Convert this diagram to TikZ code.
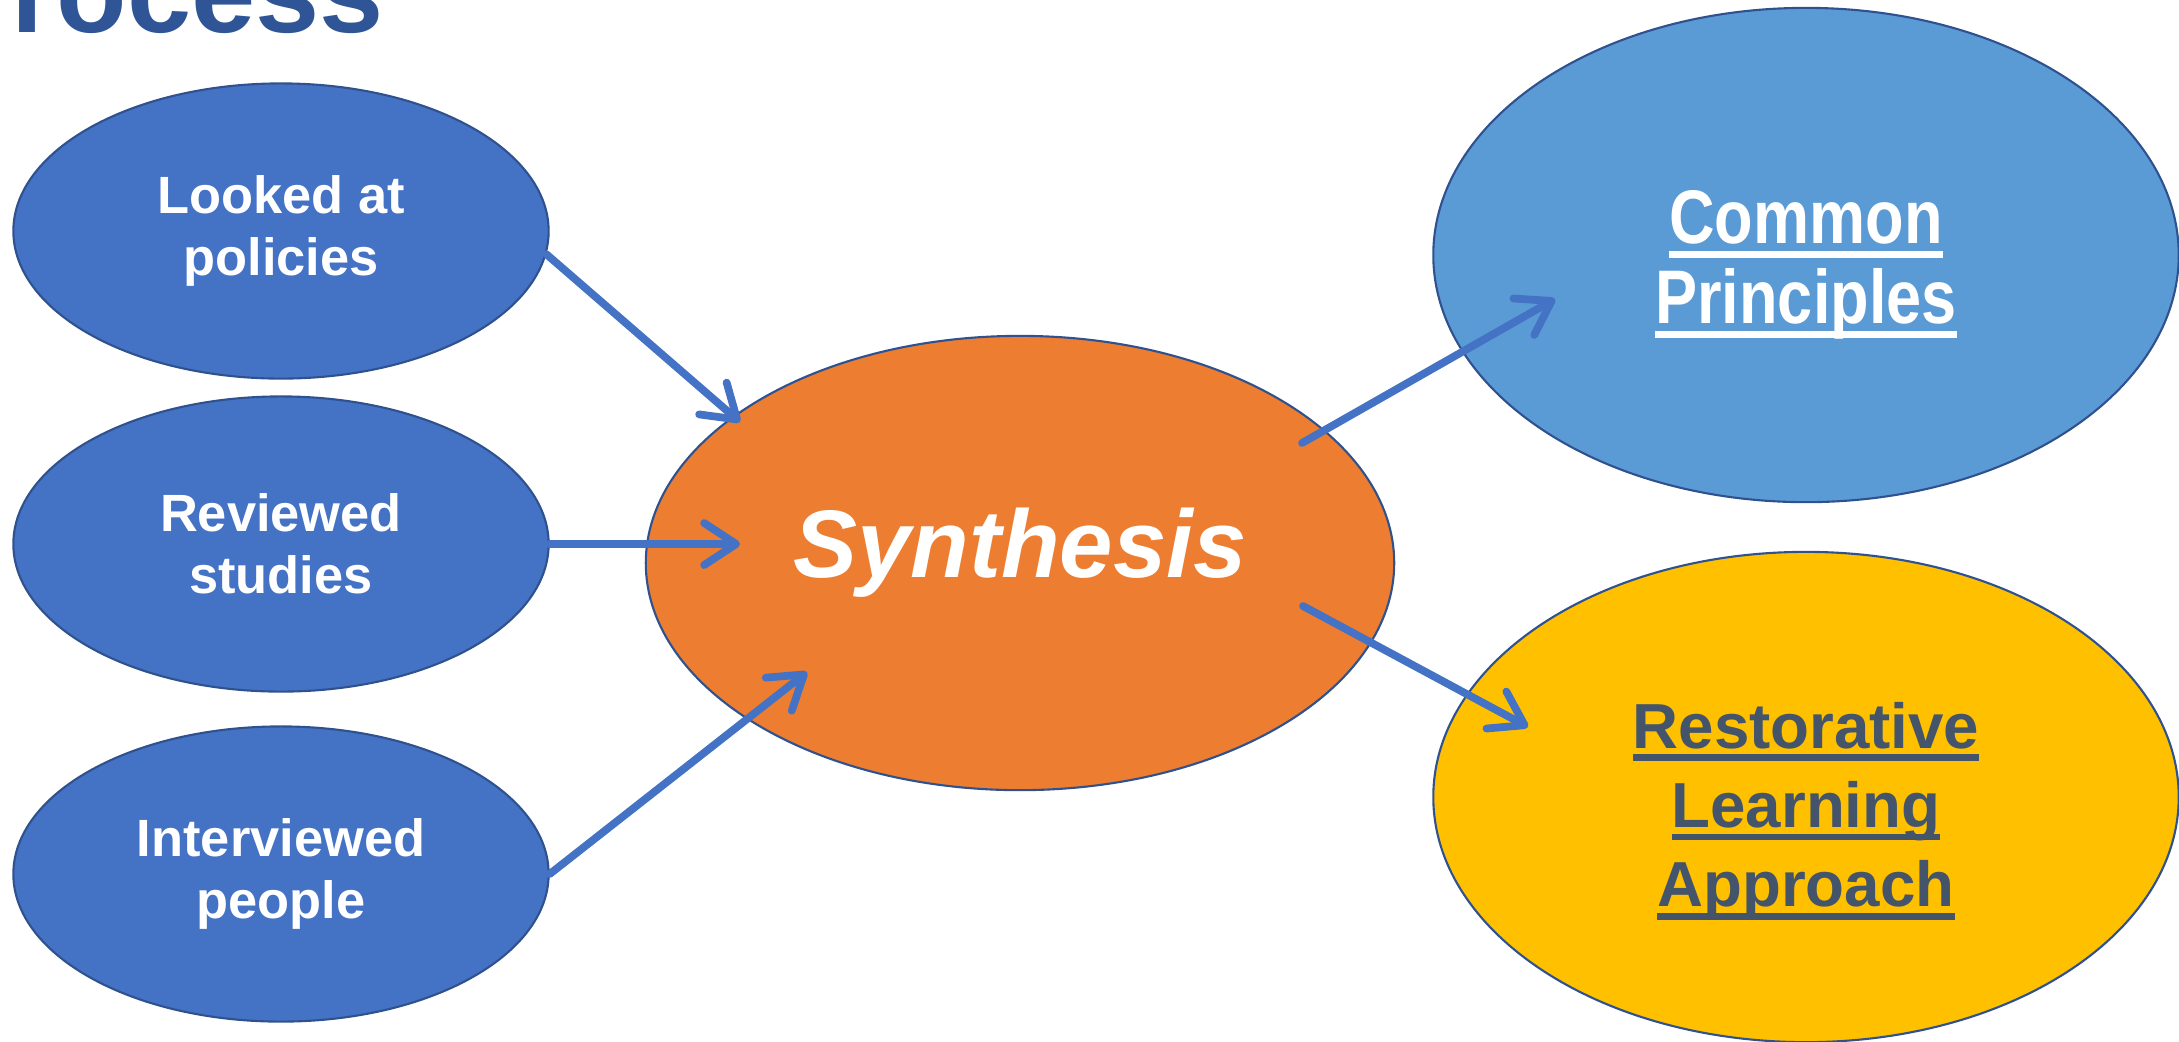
\documentclass[tikz,border=0pt]{standalone}
\usepackage{fontspec}
\setmainfont{Liberation Sans}
\newfontfamily\narrowsans[FakeStretch=0.83]{Liberation Sans}
\usetikzlibrary{arrows.meta,shapes.geometric}
\definecolor{leftblue}{HTML}{4472C4}
\definecolor{edgeblue}{HTML}{2F528F}
\definecolor{titleblue}{HTML}{2F5597}
\definecolor{synthorange}{HTML}{ED7D31}
\definecolor{commonblue}{HTML}{5B9BD5}
\definecolor{restgold}{HTML}{FFC000}
\definecolor{restgray}{HTML}{44546A}
\newsavebox\ulbox
\newcommand{\ulword}[1]{\sbox\ulbox{#1}\rlap{\rule[-0.2em]{\wd\ulbox}{0.1em}}\usebox\ulbox}
\begin{document}
\begin{tikzpicture}[x=0.01cm, y=-0.01cm, line join=round, line cap=round, >={Straight Barb[length=3.2mm, width=4.2mm, round]}]
				\tikzset{bubble/.style={ellipse, draw=edgeblue, line width=0.6pt, inner sep=0pt, align=center},
					source/.style={bubble, fill=leftblue, minimum width=5.35cm, minimum height=2.95cm, text=white, font=\fontsize{14.9pt}{17.6pt}\selectfont\bfseries},
					link/.style={->, draw=leftblue, line width=2.2pt}}
				\useasboundingbox (0,0) rectangle (2179,1041);
				\node[anchor=base west, inner sep=0pt, text=titleblue, font=\fontsize{32.8pt}{36pt}\selectfont\bfseries] (title) at (11,32) {rocess};
				\node[source] (looked) at (281,231) {Looked at\\policies};
				\node[source] (review) at (281,544) {Reviewed\\studies};
				\node[source] (interv) at (281,874) {Interviewed\\people};
				\node[bubble, fill=synthorange, minimum width=7.48cm, minimum height=4.54cm, text=white, text depth=0.4cm, font=\fontsize{27.3pt}{30pt}\selectfont\bfseries\itshape] (synth) at (1020,563) {Synthesis};
				\node[bubble, fill=commonblue, minimum width=7.45cm, minimum height=4.94cm, text=white, text height=1.52cm, font=\narrowsans\fontsize{21.6pt}{22.8pt}\selectfont\bfseries] (common) at (1806,255) {\ulword{Common}\\\ulword{Principles}};
				\node[bubble, fill=restgold, minimum width=7.45cm, minimum height=4.90cm, text=restgray, text height=2.33cm, font=\fontsize{18.1pt}{22.6pt}\selectfont\bfseries] (restor) at (1806,797) {\ulword{Restorative}\\\ulword{Learning}\\\ulword{Approach}};
				\coordinate (in1) at (740,422);
				\coordinate (in2) at (740,544);
				\coordinate (in3) at (807,672);
				\coordinate (out1) at (1302,443);
				\coordinate (to1) at (1555,299);
				\coordinate (out2) at (1303,606);
				\coordinate (to2) at (1528,727);
				\draw[link] (looked.-5)--(in1);
				\draw[link] (review.east)--(in2);
				\draw[link] (interv.east)--(in3);
				\draw[link] (out1)--(to1);
				\draw[link] (out2)--(to2);
			\end{tikzpicture}
\end{document}
